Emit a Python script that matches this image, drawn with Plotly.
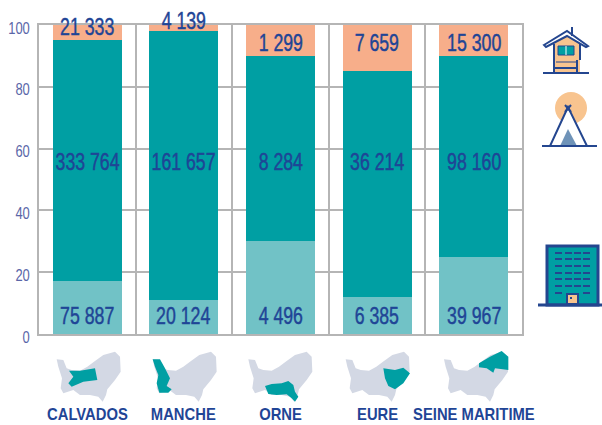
import plotly.graph_objects as go

W, H = 602, 425
categories = ["CALVADOS", "MANCHE", "ORNE", "EURE", "SEINE MARITIME"]
# Stack segments in percent
bottom_pct = [17, 11, 30, 12, 25]
middle_pct = [78, 87, 60, 73, 65]
top_pct = [5, 2, 10, 15, 10]
# Printed counts
bottom_labels = ["75 887", "20 124", "4 496", "6 385", "39 967"]
middle_labels = ["333 764", "161 657", "8 284", "36 214", "98 160"]
top_labels = ["21 333", "4 139", "1 299", "7 659", "15 300"]
# Heights at which the printed counts sit
bottom_label_y = [5.8, 5.8, 5.8, 5.8, 5.8]
middle_label_y = [55.7, 55.7, 55.7, 55.7, 55.7]
top_label_y = [99.3, 100, 94.2, 94.2, 94.2]
top_label_lift = [0, 4, 0, 0, 0]

NAVY = "#1F4596"
ICON = "#24468F"
PEACH = "#F8C48F"
TEAL = "#009FA3"
GREY = "#B5B5B5"
FONT = "Liberation Sans, Arial, sans-serif"
x = list(range(5))


def px(a):
    return a / W


def py(b):
    return 1 - b / H


def path(points):
    return "M " + " L ".join(f"{px(a):.5f},{py(b):.5f}" for a, b in points) + " Z"


shapes = []


def poly(points, fill, line=None, width=0):
    shapes.append(dict(type="path", xref="paper", yref="paper", path=path(points),
                       fillcolor=fill, line=dict(color=line or fill, width=width), layer="above"))


def seg(a0, b0, a1, b1, color=ICON, width=2):
    shapes.append(dict(type="line", xref="paper", yref="paper", x0=px(a0), y0=py(b0), x1=px(a1), y1=py(b1),
                       line=dict(color=color, width=width), layer="above"))


def rect(a0, b0, a1, b1, fill, line=None, width=0):
    shapes.append(dict(type="rect", xref="paper", yref="paper", x0=px(a0), y0=py(b0), x1=px(a1), y1=py(b1),
                       fillcolor=fill, line=dict(color=line or fill, width=width), layer="above"))


outline = [(170, 178), (190, 180), (200, 205), (215, 210), (240, 212), (262, 200), (285, 183), (310, 165), (345, 155),
           (360, 170), (362, 215), (345, 240), (322, 268), (318, 285), (308, 305), (295, 290), (270, 285), (240, 285),
           (220, 270), (190, 280), (182, 265), (186, 235), (175, 200)]
regions = [
    [(207, 212), (240, 212), (285, 205), (292, 240), (250, 245), (215, 260), (205, 250), (220, 230)],
    [(170, 178), (192, 178), (207, 205), (222, 235), (212, 258), (227, 268), (217, 278), (190, 278), (182, 250),
     (187, 225), (177, 200)],
    [(220, 258), (240, 252), (270, 250), (290, 243), (305, 255), (310, 275), (320, 290), (310, 305), (300, 295),
     (285, 283), (255, 285), (230, 282)],
    [(283, 205), (318, 210), (343, 203), (363, 220), (343, 250), (318, 268), (298, 258), (288, 235)],
    [(275, 190), (308, 170), (343, 153), (363, 170), (363, 210), (323, 205), (318, 218), (298, 205), (275, 202)],
]
offsets = [0, 288, 575, 867, 1162]
for off, reg in zip(offsets, regions):
    poly([((a + off) / 3, 300 + b / 3) for a, b in outline], "#D3D8E4")
    poly([((a + off) / 3, 300 + b / 3) for a, b in reg], TEAL)

# House icon
poly([(554, 42), (567, 33), (580, 42), (580, 73), (554, 73)], PEACH)
poly([(544, 45), (567, 31), (588, 46), (586, 47), (567, 36), (546, 47)], "white", ICON, 2)
rect(558, 46, 574, 55, TEAL, ICON, 1)
seg(566, 46, 566, 55, "white", 1)
seg(554, 44, 554, 73)
seg(580, 44, 580, 60)
seg(543, 73, 589, 73)
seg(554, 68, 578, 68)
seg(577, 60, 577, 73)
seg(572, 27, 572, 36)
seg(556, 62, 577, 62, ICON, 1)

# Tent icon
shapes.append(dict(type="circle", xref="paper", yref="paper", x0=px(555), y0=py(92), x1=px(587), y1=py(124),
                   fillcolor=PEACH, line=dict(width=0), layer="above"))
poly([(568, 107), (550, 146), (587, 146)], "white", ICON, 2)
poly([(568, 129), (560, 146), (577, 146)], "#6F93B8")
seg(542, 146, 597, 146)
seg(565, 105, 571, 112)
seg(571, 105, 565, 112)

# Building icon
rect(547, 246, 598, 305, TEAL, ICON, 3)
seg(538, 305, 602, 305, ICON, 3)
for row_y in (253, 259, 266, 273, 279, 286, 293):
    for col_x in (555, 565, 574, 583):
        if row_y == 293 and col_x in (565, 574):
            continue
        seg(col_x, row_y, col_x + 7, row_y, ICON, 2)
rect(567, 294, 578, 304, PEACH, ICON, 2)
rect(570, 297, 572, 299, ICON)

fig = go.Figure()
for vals, col in ((bottom_pct, "#71C2C6"), (middle_pct, TEAL), (top_pct, "#F7AE8A")):
    fig.add_bar(x=x, y=vals, width=0.715, marker=dict(color=col, line=dict(width=0)), hoverinfo="skip")

annotations = [dict(x=i, y=py(414), xref="x", yref="paper", yanchor="middle", text=f"<b>{c}</b>", showarrow=False,
                    font=dict(family=FONT, size=17, color=NAVY)) for i, c in enumerate(categories)]
zero_lift = [0, 0, 0, 0, 0]
for ys, labels, lifts in ((bottom_label_y, bottom_labels, zero_lift), (middle_label_y, middle_labels, zero_lift),
                          (top_label_y, top_labels, top_label_lift)):
    for i, (yv, label, lift) in enumerate(zip(ys, labels, lifts)):
        annotations.append(dict(x=i, y=yv, yshift=lift, xref="x", yref="y", yanchor="middle", xanchor="center",
                                text=label, showarrow=False, font=dict(family=FONT, size=23, color=NAVY)))

fig.update_layout(
    width=W, height=H, autosize=False, barmode="stack", showlegend=False, bargap=0.285,
    margin=dict(l=0, r=0, t=0, b=0, pad=0, autoexpand=False), paper_bgcolor="white", plot_bgcolor="white",
    shapes=shapes, annotations=annotations,
    xaxis=dict(domain=[px(39), px(522)], range=[-0.5, 4.5], tick0=-0.5, dtick=1, showgrid=True, gridcolor=GREY,
               gridwidth=2, showline=True, linecolor=GREY, linewidth=2, mirror=True, showticklabels=False,
               ticks="", zeroline=False),
    yaxis=dict(domain=[py(334), py(25)], range=[0, 100], tick0=0, dtick=20, showgrid=True, gridcolor=GREY,
               gridwidth=2, showline=True, linecolor=GREY, linewidth=2, mirror=True, ticks="", zeroline=False,
               tickfont=dict(family=FONT, size=16, color="#5A66A8"), ticklabelstandoff=4, ticklabelshift=3),
)
# The reference lettering is condensed and no narrow face is installed: squeeze the real text horizontally.
squeeze = """
document.body.style.margin='0';
document.documentElement.style.overflow='hidden';
function narrow(t,f){
  var w=t.getComputedTextLength();
  t.setAttribute('textLength',(w*f).toFixed(1));
  t.setAttribute('lengthAdjust','spacingAndGlyphs');
}
document.querySelectorAll('.annotation-text').forEach(function(t){
  if(parseFloat(t.style.fontSize)>20){
    narrow(t,0.77);t.style.stroke='#1F4596';t.style.strokeWidth='0.45px';
  }else{narrow(t,0.87);}
});
document.querySelectorAll('.ytick text').forEach(function(t){narrow(t,0.81);});
"""
fig.write_html("out.html", post_script=squeeze, config={"displayModeBar": False})
